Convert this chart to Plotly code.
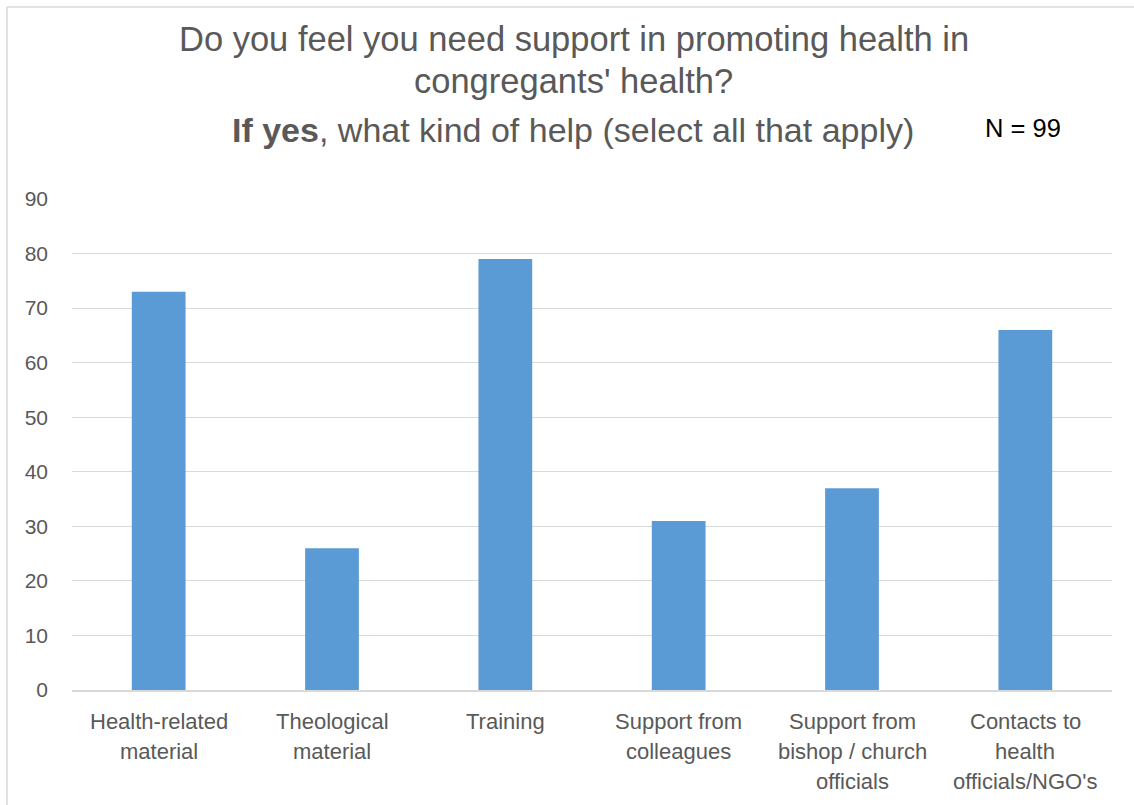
import plotly.graph_objects as go

categories = ["Health-related material", "Theological material", "Training",
              "Support from colleagues", "Support from bishop / church officials",
              "Contacts to health officials/NGO's"]
label_lines = [["Health-related", "material"], ["Theological", "material"], ["Training"],
               ["Support from", "colleagues"], ["Support from", "bishop / church", "officials"],
               ["Contacts to", "health", "officials/NGO's"]]
values = [73, 26, 79, 31, 37, 66]
y_ticks = [0, 10, 20, 30, 40, 50, 60, 70, 80, 90]

FONT = "Liberation Sans"
GREY = "#595959"

fig = go.Figure(go.Bar(x=categories, y=values, marker=dict(color="#5B9BD5", line=dict(width=0))))

W, H = 1134, 805
L, R, T, B = 72, 22, 199, 115

def px_x(px):
    return (px - L) / (W - L - R)

def px_y(py):
    return (H - B - py) / (H - T - B)

annotations = [
    dict(text="Do you feel you need support in promoting health in", xref="paper", yref="paper",
         x=px_x(574), y=px_y(39), xanchor="center", yanchor="middle", showarrow=False,
         font=dict(size=34.5, color=GREY, family=FONT)),
    dict(text="congregants' health?", xref="paper", yref="paper",
         x=px_x(573), y=px_y(81), xanchor="center", yanchor="middle", showarrow=False,
         font=dict(size=34.5, color=GREY, family=FONT)),
    dict(text="<b>If yes</b>, what kind of help (select all that apply)", xref="paper", yref="paper",
         x=px_x(573), y=px_y(130), xanchor="center", yanchor="middle", showarrow=False,
         font=dict(size=34, color=GREY, family=FONT)),
    dict(text="N = 99", xref="paper", yref="paper",
         x=px_x(1022.5), y=px_y(128), xanchor="center", yanchor="middle", showarrow=False,
         font=dict(size=25.5, color="black", family=FONT)),
]
for cat, lines in zip(categories, label_lines):
    for i, line in enumerate(lines):
        annotations.append(dict(text=line, xref="x", yref="paper", x=cat, y=px_y(721 + 30 * i),
                                xanchor="center", yanchor="middle", showarrow=False,
                                font=dict(size=22, color=GREY, family=FONT)))

fig.update_layout(
    width=W, height=H,
    margin=dict(l=L, r=R, t=T, b=B),
    paper_bgcolor="white", plot_bgcolor="white",
    bargap=0.69,
    showlegend=False,
    font=dict(family=FONT, color=GREY, size=18),
    xaxis=dict(showgrid=False, showline=True, linecolor="#D9D9D9", linewidth=1.5,
               showticklabels=False, ticks=""),
    yaxis=dict(range=[0, 90], tickvals=y_ticks, showgrid=True, gridcolor="#D9D9D9",
               gridwidth=1.3, zeroline=False, showline=False, ticks="",
               tickfont=dict(size=21, color=GREY), ticklabelstandoff=23),
    annotations=annotations,
    shapes=[
        dict(type="line", xref="paper", yref="paper", x0=px_x(7), x1=px_x(7),
             y0=px_y(7), y1=px_y(810), line=dict(color="#D9D9D9", width=1.5)),
        dict(type="line", xref="paper", yref="paper", x0=px_x(7), x1=px_x(1140),
             y0=px_y(7), y1=px_y(7), line=dict(color="#D9D9D9", width=1.5)),
    ],
)

fig.write_html("out.html", config={"displayModeBar": False},
               post_script="document.body.style.margin='0px';")
